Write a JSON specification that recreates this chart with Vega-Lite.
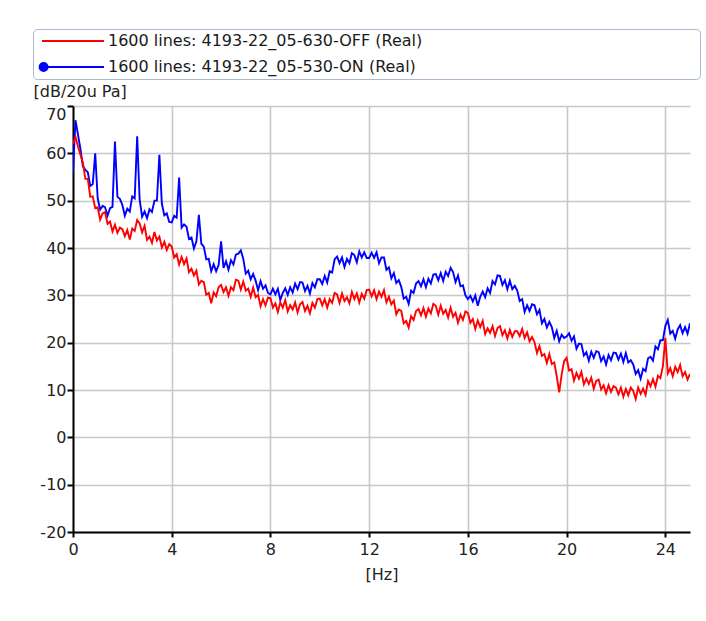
{
"$schema": "https://vega.github.io/schema/vega-lite/v6.json",
"width": 617, "height": 426,
"autosize": {"type": "none"},
"padding": {"left": 73, "top": 106, "right": 16, "bottom": 89},
"background": "white",
"config": {
 "view": {"stroke": null},
 "axis": {"grid": true, "gridColor": "#c8c8c8", "gridWidth": 1.6, "domainColor": "#000", "domainWidth": 2, "tickColor": "#000", "tickWidth": 2, "labelFont": "DejaVu Sans", "labelFontSize": 16, "labelColor": "#222", "titleFont": "DejaVu Sans", "titleFontSize": 16, "titleFontWeight": "normal", "titleColor": "#222", "labelFlush": false, "labelExpr": "'' + datum.value"}
},
"data": {"values": [
{"f":0.0,"r":62,"b":56},{"f":0.1,"r":63.5,"b":67},{"f":0.2,"r":61.5,"b":64},{"f":0.3,"r":59.7,"b":61},{"f":0.4,"r":58.0,"b":57.3},{"f":0.5,"r":54.6,"b":56.5},{"f":0.6,"r":54.6,"b":56.0},{"f":0.7,"r":50.8,"b":53.1},{"f":0.8,"r":50.9,"b":53.5},{"f":0.9,"r":48.4,"b":60},
{"f":1.0,"r":48.6,"b":50.5},{"f":1.1,"r":46.0,"b":48.1},{"f":1.2,"r":47.3,"b":48.9},{"f":1.3,"r":47.6,"b":48.6},{"f":1.4,"r":45.1,"b":46.8},{"f":1.5,"r":45.6,"b":48.4},{"f":1.6,"r":43.5,"b":48.7},{"f":1.7,"r":44.9,"b":62.5},{"f":1.8,"r":43.2,"b":50.8},{"f":1.9,"r":44.3,"b":50.4},
{"f":2.0,"r":44.0,"b":49.1},{"f":2.1,"r":42.5,"b":46.8},{"f":2.2,"r":43.8,"b":48.3},{"f":2.3,"r":41.8,"b":47.7},{"f":2.4,"r":44.1,"b":50.9},{"f":2.5,"r":43.6,"b":50.5},{"f":2.6,"r":45.9,"b":63.6},{"f":2.7,"r":45.2,"b":50.2},{"f":2.8,"r":43.3,"b":46.6},{"f":2.9,"r":44.7,"b":47.7},
{"f":3.0,"r":41.7,"b":46.3},{"f":3.1,"r":42.4,"b":48.2},{"f":3.2,"r":41.1,"b":47.6},{"f":3.3,"r":43.4,"b":50.0},{"f":3.4,"r":41.6,"b":50.0},{"f":3.5,"r":42.4,"b":59.7},{"f":3.6,"r":40.1,"b":49.4},{"f":3.7,"r":41.3,"b":46.9},{"f":3.8,"r":39.6,"b":47.3},{"f":3.9,"r":40.8,"b":45.5},
{"f":4.0,"r":40.3,"b":45.4},{"f":4.1,"r":38.0,"b":46.8},{"f":4.2,"r":38.7,"b":46.4},{"f":4.3,"r":36.5,"b":54.9},{"f":4.4,"r":38.1,"b":44.3},{"f":4.5,"r":36.6,"b":45.0},{"f":4.6,"r":37.8,"b":44.5},{"f":4.7,"r":34.9,"b":41.9},{"f":4.8,"r":35.6,"b":42.2},{"f":4.9,"r":34.2,"b":39.9},
{"f":5.0,"r":35.2,"b":41.4},{"f":5.1,"r":32.3,"b":47},{"f":5.2,"r":33.1,"b":40.9},{"f":5.3,"r":32.8,"b":40.3},{"f":5.4,"r":30.1,"b":37.6},{"f":5.5,"r":30.5,"b":37.7},{"f":5.6,"r":28.3,"b":35.1},{"f":5.7,"r":30.6,"b":36.6},{"f":5.8,"r":29.8,"b":35.1},{"f":5.9,"r":31.7,"b":36.4},
{"f":6.0,"r":32.2,"b":41.4},{"f":6.1,"r":30.7,"b":35.8},{"f":6.2,"r":31.7,"b":37.2},{"f":6.3,"r":29.9,"b":35.4},{"f":6.4,"r":31.7,"b":37.4},{"f":6.5,"r":31.1,"b":36.5},{"f":6.6,"r":33.3,"b":38.6},{"f":6.7,"r":33.1,"b":38.8},{"f":6.8,"r":31.2,"b":39.5},{"f":6.9,"r":32.9,"b":37.7},
{"f":7.0,"r":31.0,"b":34.6},{"f":7.1,"r":31.4,"b":35.2},{"f":7.2,"r":29.7,"b":33.4},{"f":7.3,"r":31.6,"b":34.5},{"f":7.4,"r":29.6,"b":33.1},{"f":7.5,"r":30.1,"b":31.1},{"f":7.6,"r":27.7,"b":33.0},{"f":7.7,"r":29.2,"b":31.4},{"f":7.8,"r":27.9,"b":32.1},{"f":7.9,"r":29.5,"b":30.5},
{"f":8.0,"r":29.4,"b":30.2},{"f":8.1,"r":27.4,"b":31.4},{"f":8.2,"r":28.3,"b":30.2},{"f":8.3,"r":26.5,"b":31.4},{"f":8.4,"r":28.5,"b":29.0},{"f":8.5,"r":27.4,"b":30.5},{"f":8.6,"r":29.0,"b":31.5},{"f":8.7,"r":26.6,"b":30.1},{"f":8.8,"r":27.9,"b":31.7},{"f":8.9,"r":27.0,"b":30.6},
{"f":9.0,"r":28.5,"b":32.5},{"f":9.1,"r":26.4,"b":31.3},{"f":9.2,"r":28.1,"b":32.8},{"f":9.3,"r":28.6,"b":32.7},{"f":9.4,"r":26.7,"b":30.9},{"f":9.5,"r":27.8,"b":32.0},{"f":9.6,"r":26.2,"b":30.4},{"f":9.7,"r":28.4,"b":32.6},{"f":9.8,"r":27.4,"b":31.7},{"f":9.9,"r":29.2,"b":33.4},
{"f":10.0,"r":29.3,"b":33.4},{"f":10.1,"r":27.9,"b":32.4},{"f":10.2,"r":29.2,"b":34.1},{"f":10.3,"r":27.4,"b":32.7},{"f":10.4,"r":29.2,"b":35.1},{"f":10.5,"r":28.4,"b":34.8},{"f":10.6,"r":30.5,"b":37.6},{"f":10.7,"r":30.2,"b":38.2},{"f":10.8,"r":28.4,"b":36.8},{"f":10.9,"r":30.4,"b":38.0},
{"f":11.0,"r":28.8,"b":36.0},{"f":11.1,"r":29.6,"b":37.7},{"f":11.2,"r":28.3,"b":36.8},{"f":11.3,"r":30.7,"b":38.9},{"f":11.4,"r":29.2,"b":38.5},{"f":11.5,"r":30.4,"b":37.0},{"f":11.6,"r":28.5,"b":39.3},{"f":11.7,"r":30.3,"b":38.0},{"f":11.8,"r":29.3,"b":39.1},{"f":11.9,"r":31.1,"b":37.9},
{"f":12.0,"r":31.2,"b":37.9},{"f":12.1,"r":29.8,"b":39.0},{"f":12.2,"r":31.1,"b":37.9},{"f":12.3,"r":29.2,"b":39.1},{"f":12.4,"r":30.8,"b":36.8},{"f":12.5,"r":29.7,"b":38.0},{"f":12.6,"r":31.1,"b":38.0},{"f":12.7,"r":28.5,"b":35.4},{"f":12.8,"r":29.7,"b":35.9},{"f":12.9,"r":28.1,"b":33.6},
{"f":13.0,"r":28.9,"b":34.7},{"f":13.1,"r":26.0,"b":32.6},{"f":13.2,"r":27.0,"b":33.2},{"f":13.3,"r":26.7,"b":31.8},{"f":13.4,"r":24.1,"b":29.3},{"f":13.5,"r":24.6,"b":29.7},{"f":13.6,"r":23.2,"b":28.2},{"f":13.7,"r":25.6,"b":31.0},{"f":13.8,"r":24.8,"b":30.5},{"f":13.9,"r":26.7,"b":32.5},
{"f":14.0,"r":27.1,"b":33.0},{"f":14.1,"r":25.8,"b":31.9},{"f":14.2,"r":27.3,"b":33.4},{"f":14.3,"r":25.5,"b":31.7},{"f":14.4,"r":27.2,"b":33.5},{"f":14.5,"r":26.2,"b":32.5},{"f":14.6,"r":28.2,"b":34.4},{"f":14.7,"r":27.8,"b":34.5},{"f":14.8,"r":25.9,"b":33.2},{"f":14.9,"r":27.8,"b":34.7},
{"f":15.0,"r":26.1,"b":33.0},{"f":15.1,"r":26.9,"b":35.0},{"f":15.2,"r":25.3,"b":34.1},{"f":15.3,"r":27.4,"b":35.8},{"f":15.4,"r":25.5,"b":34.9},{"f":15.5,"r":26.3,"b":32.8},{"f":15.6,"r":24.2,"b":34.2},{"f":15.7,"r":25.9,"b":31.9},{"f":15.8,"r":24.8,"b":32.1},{"f":15.9,"r":26.6,"b":30.0},
{"f":16.0,"r":26.3,"b":29.2},{"f":16.1,"r":24.2,"b":29.9},{"f":16.2,"r":25.0,"b":28.7},{"f":16.3,"r":22.9,"b":30.0},{"f":16.4,"r":24.7,"b":27.8},{"f":16.5,"r":23.3,"b":29.7},{"f":16.6,"r":24.6,"b":30.8},{"f":16.7,"r":21.8,"b":29.6},{"f":16.8,"r":23.0,"b":31.5},{"f":16.9,"r":22.1,"b":30.5},
{"f":17.0,"r":23.5,"b":33.0},{"f":17.1,"r":21.4,"b":32.3},{"f":17.2,"r":23.1,"b":34.2},{"f":17.3,"r":23.5,"b":34.1},{"f":17.4,"r":21.6,"b":32.2},{"f":17.5,"r":22.6,"b":33.2},{"f":17.6,"r":20.9,"b":31.3},{"f":17.7,"r":22.7,"b":33.1},{"f":17.8,"r":21.2,"b":31.3},{"f":17.9,"r":22.4,"b":32.0},
{"f":18.0,"r":22.4,"b":31.0},{"f":18.1,"r":21.4,"b":28.8},{"f":18.2,"r":22.9,"b":29.2},{"f":18.3,"r":21.0,"b":26.5},{"f":18.4,"r":22.2,"b":27.9},{"f":18.5,"r":20.3,"b":26.7},{"f":18.6,"r":21.2,"b":28.1},{"f":18.7,"r":20.1,"b":27.9},{"f":18.8,"r":17.8,"b":26.0},{"f":18.9,"r":19.3,"b":26.9},
{"f":19.0,"r":17.2,"b":24.1},{"f":19.1,"r":17.6,"b":25.0},{"f":19.2,"r":15.7,"b":23.2},{"f":19.3,"r":17.6,"b":24.4},{"f":19.4,"r":15.5,"b":23.3},{"f":19.5,"r":15.8,"b":21.0},{"f":19.6,"r":12.9,"b":22.5},{"f":19.7,"r":9.5,"b":20.3},{"f":19.8,"r":13.3,"b":21.7},{"f":19.9,"r":16.1,"b":21.0},
{"f":20.0,"r":16.8,"b":21.3},{"f":20.1,"r":14.1,"b":22.0},{"f":20.2,"r":14.4,"b":20.4},{"f":20.3,"r":12.0,"b":21.3},{"f":20.4,"r":13.6,"b":18.7},{"f":20.5,"r":12.4,"b":19.8},{"f":20.6,"r":13.8,"b":19.7},{"f":20.7,"r":11.2,"b":17.3},{"f":20.8,"r":12.4,"b":18.0},{"f":20.9,"r":11.3,"b":16.2},
{"f":21.0,"r":12.6,"b":18.1},{"f":21.1,"r":10.3,"b":16.8},{"f":21.2,"r":11.9,"b":18.2},{"f":21.3,"r":12.2,"b":18.0},{"f":21.4,"r":10.1,"b":16.1},{"f":21.5,"r":11.0,"b":17.1},{"f":21.6,"r":9.3,"b":15.4},{"f":21.7,"r":11.0,"b":17.4},{"f":21.8,"r":9.6,"b":16.3},{"f":21.9,"r":10.8,"b":17.9},
{"f":22.0,"r":10.5,"b":17.8},{"f":22.1,"r":9.1,"b":16.4},{"f":22.2,"r":10.5,"b":17.7},{"f":22.3,"r":8.6,"b":15.9},{"f":22.4,"r":10.2,"b":17.8},{"f":22.5,"r":8.9,"b":15.8},{"f":22.6,"r":10.5,"b":16.3},{"f":22.7,"r":9.8,"b":15.4},{"f":22.8,"r":8.1,"b":13.4},{"f":22.9,"r":10.5,"b":14.2},
{"f":23.0,"r":9.2,"b":12.4},{"f":23.1,"r":10.3,"b":14.5},{"f":23.2,"r":9.0,"b":14.0},{"f":23.3,"r":11.9,"b":16.7},{"f":23.4,"r":10.8,"b":17.0},{"f":23.5,"r":12.3,"b":16.2},{"f":23.6,"r":10.7,"b":19.2},{"f":23.7,"r":13.0,"b":18.6},{"f":23.8,"r":12.5,"b":20.5},{"f":23.9,"r":15.0,"b":20.5},
{"f":24.0,"r":21,"b":23.5},{"f":24.1,"r":13.5,"b":24.8},{"f":24.2,"r":14.6,"b":21.9},{"f":24.3,"r":12.9,"b":22.5},{"f":24.4,"r":14.9,"b":20.8},{"f":24.5,"r":13.8,"b":22.8},{"f":24.6,"r":15.3,"b":23.7},{"f":24.7,"r":12.9,"b":22.0},{"f":24.8,"r":13.8,"b":23.3},{"f":24.9,"r":12.2,"b":21.9},
{"f":25.0,"r":13.4,"b":24.1}
]},
"layer": [
 {"mark": {"type": "line", "strokeWidth": 1.9, "clip": true},
  "encoding": {
   "x": {"field": "f", "type": "quantitative", "scale": {"domain": [0, 25], "nice": false, "zero": false},
         "axis": {"values": [0,4,8,12,16,20,24], "title": "[Hz]", "tickSize": 5, "labelPadding": 4, "titlePadding": 9}},
   "y": {"field": "b", "type": "quantitative", "scale": {"domain": [-20, 70], "nice": false},
         "axis": {"values": [-20,-10,0,10,20,30,40,50,60,70], "title": "[dB/20u Pa]", "titleAngle": 0, "titleAlign": "left", "titleBaseline": "alphabetic", "titleX": -40, "titleY": -10, "tickSize": 6, "labelPadding": 1,
                  "labelBaseline": {"condition": {"test": "datum.value == 70", "value": "top"}, "value": "middle"}}},
   "color": {"datum": "1600 lines: 4193-22_05-530-ON (Real)", "type": "nominal",
     "scale": {"domain": ["1600 lines: 4193-22_05-630-OFF (Real)", "1600 lines: 4193-22_05-530-ON (Real)"], "range": ["#ff0000", "#0000ff"]},
     "legend": {"orient": "none", "legendX": -40, "legendY": -77, "title": "\u00a0", "titleOrient": "right", "titlePadding": 274,
       "strokeColor": "#a9b9d0", "cornerRadius": 4, "padding": 4,
       "symbolType": "M-6.2,0L6.2,0", "symbolSize": 100, "symbolStrokeWidth": 2, "symbolOffset": 28, "labelOffset": 27,
       "labelFont": "DejaVu Sans", "labelFontSize": 16, "labelColor": "#1a1a1a", "labelLimit": 500, "rowPadding": 10,
       "encoding": {"symbols": {
         "shape": {"condition": {"test": "indexof(datum.value, '-ON') >= 0", "value": "M-6.2,0L6.2,0M-6.68,0a0.8,0.8 0 1,0 1.6,0a0.8,0.8 0 1,0 -1.6,0Z"}, "value": "M-6.2,0L6.2,0"},
         "fill": {"condition": {"test": "indexof(datum.value, '-ON') >= 0", "value": "#0000ff"}, "value": "transparent"}}}}}
  }},
 {"mark": {"type": "line", "strokeWidth": 1.9, "clip": true},
  "encoding": {
   "x": {"field": "f", "type": "quantitative"},
   "y": {"field": "r", "type": "quantitative", "title": "[dB/20u Pa]"},
   "color": {"datum": "1600 lines: 4193-22_05-630-OFF (Real)", "type": "nominal"}
  }}
]
}
